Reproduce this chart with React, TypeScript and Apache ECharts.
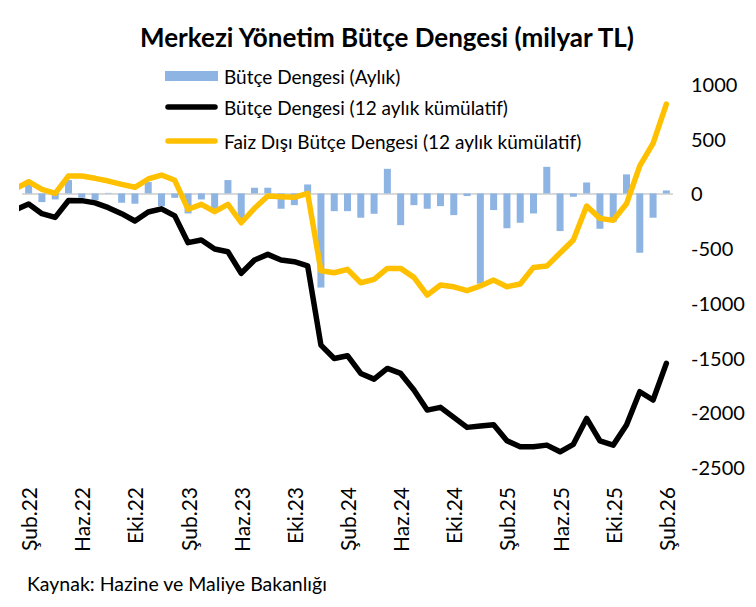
import React, { useEffect, useRef } from "react";
import * as echarts from "echarts";

// Months shown on the axis (Şub.22 … Şub.26)
const categories = [
  "Şub.22", "Mar.22", "Nis.22", "May.22", "Haz.22", "Tem.22", "Ağu.22", "Eyl.22", "Eki.22", "Kas.22", "Ara.22",
  "Oca.23", "Şub.23", "Mar.23", "Nis.23", "May.23", "Haz.23", "Tem.23", "Ağu.23", "Eyl.23", "Eki.23", "Kas.23", "Ara.23",
  "Oca.24", "Şub.24", "Mar.24", "Nis.24", "May.24", "Haz.24", "Tem.24", "Ağu.24", "Eyl.24", "Eki.24", "Kas.24", "Ara.24",
  "Oca.25", "Şub.25", "Mar.25", "Nis.25", "May.25", "Haz.25", "Tem.25", "Ağu.25", "Eyl.25", "Eki.25", "Kas.25", "Ara.25",
  "Oca.26", "Şub.26",
];

// Bütçe Dengesi (Aylık), milyar TL
const monthlyBalance = [
  82, -79, -55, 122, -40, -61, 5, -85, -94, 104, -116, -40,
  -183, -55, -171, 122, -240, 52, 52, -140, -107, 82, -860, -162,
  -162, -222, -186, 225, -290, -107, -140, -116, -198, -24, -825, -152,
  -318, -268, -183, 243, -344, -30, 100, -323, -260, 174, -542, -222, 27,
];

// Bütçe Dengesi (12 aylık kümülatif)
const balance12m = [
  -97, -185, -219, -65, -66, -86, -130, -185, -252, -170, -141, -205,
  -450, -426, -508, -533, -730, -609, -557, -609, -624, -661, -1386, -1508,
  -1483, -1645, -1697, -1599, -1645, -1797, -1980, -1955, -2047, -2138, -2126, -2114,
  -2260, -2315, -2315, -2300, -2361, -2293, -2056, -2262, -2300, -2117, -1812, -1888, -1553,
];

// Faiz Dışı Bütçe Dengesi (12 aylık kümülatif)
const primaryBalance12m = [
  107, 37, 1, 159, 159, 138, 113, 83, 56, 132, 168, 120,
  -145, -100, -167, -100, -268, -136, -24, -30, -36, 1, -706, -725,
  -694, -816, -785, -685, -685, -767, -929, -837, -853, -889, -846, -792,
  -853, -828, -676, -664, -545, -426, -115, -228, -246, -95, 252, 458, 817,
];

// Previous month (Oca.22), only partly visible at the left edge
const priorBalance12m = -149;
const priorPrimaryBalance12m = 43;

const labelStep = 4;
const yMin = -2500;
const yMax = 1000;
const yStep = 500;

const seriesNames = [
  "Bütçe Dengesi (Aylık)",
  "Bütçe Dengesi (12 aylık kümülatif)",
  "Faiz Dışı Bütçe Dengesi (12 aylık kümülatif)",
];
const seriesColors = ["#8DB4E2", "#000000", "#FFC000"];
const titleText = "Merkezi Yönetim Bütçe Dengesi (milyar TL)";
const sourceText = "Kaynak: Hazine ve Maliye Bakanlığı";

const FONT = "Lato, 'Noto Sans', sans-serif";

export default function App() {
  const ref = useRef<HTMLDivElement>(null);

  useEffect(() => {
    if (!ref.current) return;
    const chart = echarts.init(ref.current, null, { renderer: "svg" });

    const barData = monthlyBalance.map((v, i) => [i, v]);
    const blackData = [[-1, priorBalance12m], ...balance12m.map((v, i) => [i, v])];
    const yellowData = [[-1, priorPrimaryBalance12m], ...primaryBalance12m.map((v, i) => [i, v])];
    const labelValues = categories.map((_, i) => i).filter((i) => i % labelStep === 0);

    // manual legend
    const legendX = 165;
    const legendIconW = 53;
    const legendRows = [76, 107, 141];
    const legendGraphics: any[] = [];
    seriesNames.forEach((name, k) => {
      const y = legendRows[k];
      if (k === 0) {
        legendGraphics.push({
          type: "rect",
          shape: { x: legendX, y: y - 5, width: legendIconW, height: 10 },
          style: { fill: seriesColors[k] },
        });
      } else {
        legendGraphics.push({
          type: "line",
          shape: { x1: legendX + 3, y1: y, x2: legendX + legendIconW - 3, y2: y },
          style: { stroke: seriesColors[k], lineWidth: 5.5, lineCap: "round" },
        });
      }
      legendGraphics.push({
        type: "text",
        x: legendX + legendIconW + 6,
        y,
        style: {
          text: name,
          fontFamily: FONT,
          fontSize: 19,
          fill: "#000",
          align: "left",
          verticalAlign: "middle",
        },
      });
    });

    chart.setOption({
      animation: false,
      backgroundColor: "#ffffff",
      textStyle: { fontFamily: FONT },
      graphic: [
        {
          type: "text",
          x: 387,
          y: 37,
          style: {
            text: titleText,
            fontFamily: FONT,
            fontSize: 26,
            fontWeight: "bold",
            fill: "#000",
            align: "center",
            verticalAlign: "middle",
          },
        },
        {
          type: "text",
          x: 27,
          y: 583,
          style: {
            text: sourceText,
            fontFamily: FONT,
            fontSize: 19.5,
            fill: "#000",
            align: "left",
            verticalAlign: "middle",
          },
        },
        ...legendGraphics,
      ],
      grid: { left: 22, right: 83, top: 84, bottom: 140, containLabel: false },
      xAxis: {
        type: "value",
        min: -0.5,
        max: categories.length - 0.5,
        axisLine: { show: false },
        axisTick: { show: false },
        splitLine: { show: false },
        axisLabel: {
          customValues: labelValues,
          rotate: 90,
          margin: 20,
          padding: [0, 0, 6, 0],
          fontFamily: FONT,
          fontSize: 21,
          color: "#000",
          formatter: (v: number) => categories[Math.round(v)] ?? "",
        },
      },
      yAxis: {
        type: "value",
        position: "right",
        min: yMin,
        max: yMax,
        interval: yStep,
        axisLine: { show: false },
        axisTick: { show: false },
        splitLine: { show: false },
        axisLabel: {
          margin: 18,
          align: "left",
          fontFamily: FONT,
          fontSize: 20,
          color: "#000",
          formatter: (v: number) => String(v),
        },
      },
      series: [
        {
          name: seriesNames[0],
          type: "bar",
          data: barData,
          barWidth: 7,
          itemStyle: { color: seriesColors[0] },
          markLine: {
            silent: true,
            symbol: ["none", "none"],
            z: 1,
            label: { show: false },
            lineStyle: { color: "#D9D9D9", width: 2, type: "solid" },
            data: [{ yAxis: 0 }],
          },
        },
        {
          name: seriesNames[1],
          type: "line",
          data: blackData,
          symbol: "none",
          clip: true,
          lineStyle: { color: seriesColors[1], width: 5.5, join: "round", cap: "round" },
          itemStyle: { color: seriesColors[1] },
        },
        {
          name: seriesNames[2],
          type: "line",
          data: yellowData,
          symbol: "none",
          clip: true,
          lineStyle: { color: seriesColors[2], width: 5.5, join: "round", cap: "round" },
          itemStyle: { color: seriesColors[2] },
        },
      ],
    });

    return () => chart.dispose();
  }, []);

  return (
    <div
      ref={ref}
      style={{ position: "fixed", left: 0, top: 0, width: 756, height: 607 }}
    />
  );
}
